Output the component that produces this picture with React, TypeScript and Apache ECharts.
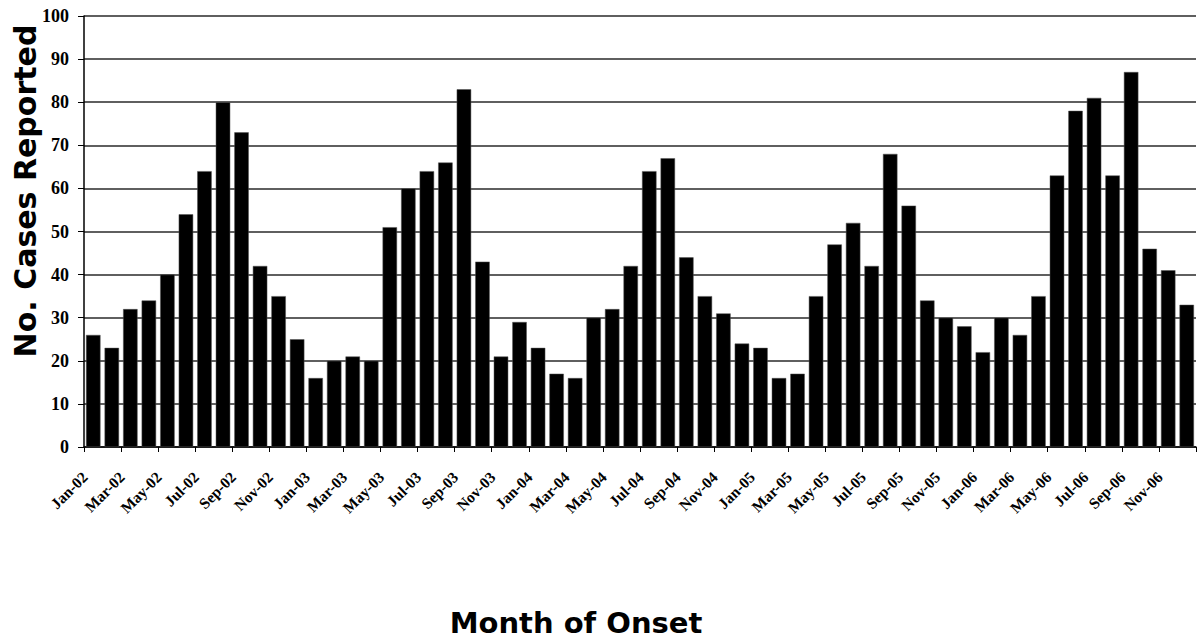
import React, { useEffect, useRef } from "react";
import * as echarts from "echarts";

const MONTHS = ["Jan", "Feb", "Mar", "Apr", "May", "Jun", "Jul", "Aug", "Sep", "Oct", "Nov", "Dec"];
const YEARS = ["02", "03", "04", "05", "06"];
const categories: string[] = [];
YEARS.forEach((y) => MONTHS.forEach((m) => categories.push(`${m}-${y}`)));

const cases2002 = [26, 23, 32, 34, 40, 54, 64, 80, 73, 42, 35, 25];
const cases2003 = [16, 20, 21, 20, 51, 60, 64, 66, 83, 43, 21, 29];
const cases2004 = [23, 17, 16, 30, 32, 42, 64, 67, 44, 35, 31, 24];
const cases2005 = [23, 16, 17, 35, 47, 52, 42, 68, 56, 34, 30, 28];
const cases2006 = [22, 30, 26, 35, 63, 78, 81, 63, 87, 46, 41, 33];
const values = [...cases2002, ...cases2003, ...cases2004, ...cases2005, ...cases2006];

const yTitle = "No. Cases Reported";
const xTitle = "Month of Onset";

export default function App() {
  const ref = useRef<HTMLDivElement>(null);
  useEffect(() => {
    if (!ref.current) return;
    const chart = echarts.init(ref.current, null, { renderer: "svg" });
    chart.setOption({
      animation: false,
      backgroundColor: "#ffffff",
      grid: { left: 84, right: 3, top: 16, bottom: 192, containLabel: false },
      xAxis: {
        type: "category",
        data: categories,
        boundaryGap: true,
        axisLine: { lineStyle: { color: "#000", width: 1.5 } },
        axisTick: { show: true, interval: 1, length: 5, lineStyle: { color: "#000", width: 1 } },
        axisLabel: {
          interval: 1,
          rotate: 45,
          margin: 19,
          padding: [0, 12, 0, 0],
          color: "#000",
          fontFamily: "Liberation Serif, Times New Roman, serif",
          fontWeight: "bold",
          fontSize: 15.5,
        },
        splitLine: { show: false },
      },
      yAxis: {
        type: "value",
        min: 0,
        max: 100,
        interval: 10,
        axisLine: { show: true, lineStyle: { color: "#000", width: 1.5 } },
        axisTick: { show: true, length: 6, lineStyle: { color: "#000", width: 1 } },
        axisLabel: {
          margin: 15,
          color: "#000",
          fontFamily: "Liberation Serif, Times New Roman, serif",
          fontWeight: "bold",
          fontSize: 18,
        },
        splitLine: { show: true, lineStyle: { color: "#2a2a2a", width: 1.5 } },
      },
      series: [
        {
          type: "bar",
          data: values,
          barCategoryGap: "22%",
          itemStyle: { color: "#000000", borderColor: "#555", borderWidth: 0.5 },
        },
      ],
      graphic: [
        {
          type: "text",
          x: 25,
          y: 191,
          rotation: Math.PI / 2,
          style: {
            text: yTitle,
            font: "bold 30px 'DejaVu Sans', Verdana, sans-serif",
            fill: "#000",
            textAlign: "center",
            textVerticalAlign: "middle",
          },
        },
        {
          type: "text",
          x: 576,
          y: 623,
          style: {
            text: xTitle,
            font: "bold 29px 'DejaVu Sans', Verdana, sans-serif",
            fill: "#000",
            textAlign: "center",
            textVerticalAlign: "middle",
          },
        },
      ],
    });
    return () => chart.dispose();
  }, []);
  return <div ref={ref} style={{ width: 1199, height: 639, position: "absolute", left: 0, top: 0 }} />;
}
